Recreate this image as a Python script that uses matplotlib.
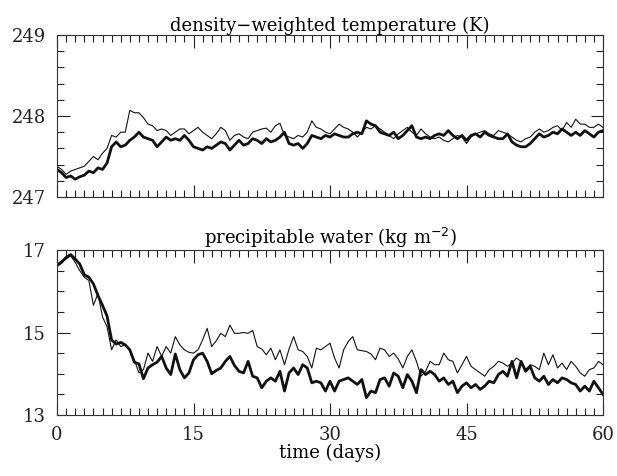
import numpy as np
import matplotlib
matplotlib.use("Agg")
import matplotlib.pyplot as plt
from matplotlib.ticker import MultipleLocator

# half-day samples, days 0..60
temp_thick = [
    247.34, 247.30, 247.24, 247.26, 247.22, 247.25, 247.27, 247.32, 247.30, 247.36,
    247.34, 247.42, 247.62, 247.68, 247.62, 247.64, 247.70, 247.74, 247.80, 247.74,
    247.72, 247.70, 247.62, 247.68, 247.74, 247.70, 247.72, 247.70, 247.76, 247.70,
    247.62, 247.60, 247.58, 247.62, 247.60, 247.64, 247.68, 247.66, 247.58, 247.64,
    247.70, 247.64, 247.66, 247.72, 247.70, 247.66, 247.72, 247.68, 247.70, 247.74,
    247.80, 247.66, 247.64, 247.66, 247.60, 247.66, 247.76, 247.74, 247.72, 247.76,
    247.74, 247.78, 247.76, 247.74, 247.74, 247.78, 247.80, 247.78, 247.94, 247.90,
    247.88, 247.80, 247.78, 247.76, 247.80, 247.72, 247.76, 247.82, 247.88, 247.74,
    247.72, 247.74, 247.72, 247.76, 247.78, 247.76, 247.82, 247.76, 247.72, 247.76,
    247.70, 247.76, 247.78, 247.74, 247.80, 247.76, 247.74, 247.72, 247.72, 247.78,
    247.68, 247.64, 247.62, 247.62, 247.66, 247.72, 247.78, 247.74, 247.76, 247.80,
    247.78, 247.84, 247.80, 247.76, 247.80, 247.76, 247.82, 247.78, 247.74, 247.80,
    247.82,
]
temp_thin = [
    247.38, 247.34, 247.28, 247.32, 247.34, 247.36, 247.38, 247.44, 247.50, 247.46,
    247.54, 247.60, 247.76, 247.74, 247.80, 247.80, 248.07, 248.04, 248.04, 247.98,
    247.90, 247.88, 247.82, 247.84, 247.82, 247.76, 247.80, 247.84, 247.84, 247.78,
    247.82, 247.86, 247.80, 247.76, 247.72, 247.78, 247.86, 247.82, 247.70, 247.76,
    247.78, 247.74, 247.72, 247.80, 247.82, 247.84, 247.85, 247.80, 247.88, 247.91,
    247.76, 247.74, 247.72, 247.76, 247.74, 247.80, 247.94, 247.86, 247.84, 247.80,
    247.78, 247.84, 247.90, 247.86, 247.84, 247.80, 247.74, 247.80, 247.86, 247.84,
    247.88, 247.84, 247.80, 247.76, 247.72, 247.78, 247.82, 247.86, 247.80, 247.76,
    247.84, 247.78, 247.74, 247.72, 247.74, 247.70, 247.68, 247.72, 247.76, 247.74,
    247.66, 247.74, 247.78, 247.80, 247.82, 247.78, 247.76, 247.82, 247.80, 247.78,
    247.74, 247.70, 247.68, 247.72, 247.74, 247.80, 247.84, 247.80, 247.82, 247.86,
    247.88, 247.82, 247.92, 247.86, 247.96, 247.90, 247.90, 247.86, 247.86, 247.90,
    247.86,
]
pw_thick = [
    16.62, 16.70, 16.82, 16.89, 16.78, 16.66, 16.40, 16.34, 16.18, 15.90,
    15.66, 15.40, 14.82, 14.72, 14.76, 14.70, 14.58, 14.28, 14.24, 13.88,
    14.14, 14.22, 14.28, 14.42, 14.14, 13.98, 14.48, 14.10, 13.90, 14.02,
    14.34, 14.46, 14.50, 14.30, 14.00, 14.08, 14.14, 14.30, 14.42, 14.20,
    14.06, 14.02, 14.30, 13.94, 13.90, 13.66, 13.82, 13.90, 13.82, 14.06,
    13.58, 14.02, 14.14, 13.98, 14.22, 14.14, 13.78, 13.82, 13.78, 13.58,
    13.82, 13.58, 13.82, 13.86, 13.90, 13.82, 13.74, 13.86, 13.42, 13.58,
    13.54, 13.86, 13.90, 13.70, 14.02, 13.94, 13.66, 13.98, 13.82, 13.54,
    14.10, 13.98, 14.06, 13.98, 13.82, 13.90, 13.74, 13.82, 13.54, 13.70,
    13.78, 13.66, 13.74, 13.62, 13.70, 13.82, 13.78, 13.98, 14.06, 13.94,
    14.30, 13.90, 14.30, 14.06, 14.18, 13.90, 13.82, 13.94, 13.74, 13.86,
    13.78, 13.90, 13.86, 13.78, 13.74, 13.58, 13.70, 13.58, 13.82, 13.66,
    13.50,
]
pw_thin = [
    16.66, 16.74, 16.78, 16.86, 16.70, 16.50, 16.34, 16.26, 15.66, 15.94,
    15.38, 15.14, 14.58, 14.82, 14.66, 14.70, 14.58, 14.34, 14.02, 14.10,
    14.50, 14.30, 14.66, 14.42, 14.66, 14.50, 14.90, 14.70, 14.58, 14.52,
    14.50, 14.58, 14.82, 15.10, 14.66, 14.80, 14.98, 14.90, 15.18, 14.98,
    14.98, 15.00, 14.98, 15.05, 14.66, 14.60, 14.46, 14.62, 14.34, 14.58,
    14.22, 14.60, 14.90, 14.58, 14.54, 14.42, 14.14, 14.62, 14.58, 14.66,
    14.74, 14.38, 14.14, 14.58, 14.78, 14.90, 14.58, 14.56, 14.54, 14.48,
    14.34, 14.62, 14.58, 14.42, 14.50, 14.36, 14.14, 14.42, 14.58, 14.30,
    13.94, 14.06, 14.30, 14.22, 14.22, 14.50, 14.34, 14.30, 14.02, 14.22,
    14.42, 14.18, 14.10, 14.02, 13.94, 14.10, 14.18, 14.30, 14.26, 14.18,
    14.26, 14.38, 14.30, 14.10, 14.22, 14.18, 14.10, 14.50, 14.22, 14.46,
    14.14, 14.26, 14.10, 14.30, 14.18, 14.02, 13.94, 14.10, 14.14, 14.30,
    14.22,
]

x_ticks = [0, 15, 30, 45, 60]
temp_ticks = [247, 248, 249]
pw_ticks = [13, 15, 17]

days = np.arange(len(temp_thick)) * 0.5

plt.rcParams['font.family'] = ['DejaVu Serif']
FS = 13

fig = plt.figure(figsize=(6.17, 4.76), dpi=100)
ax1 = fig.add_axes([57/617, 1-197/476, 546/617, 162/476])
ax2 = fig.add_axes([57/617, 1-415/476, 546/617, 165/476])

def style(ax, ylim, yticks, yminor):
    ax.set_xlim(0, 60)
    ax.set_ylim(*ylim)
    ax.set_xticks(x_ticks)
    ax.set_yticks(yticks)
    ax.xaxis.set_minor_locator(MultipleLocator(1))
    ax.yaxis.set_minor_locator(MultipleLocator(yminor))
    ax.tick_params(which='both', direction='in', top=True, right=True,
                   labelsize=FS, width=0.8, colors='#222222')
    ax.tick_params(which='major', length=9, pad=8)
    ax.tick_params(which='minor', length=5)
    for s in ax.spines.values():
        s.set_linewidth(0.8)
        s.set_color('#333333')

ax1.plot(days, temp_thin, color='#111111', lw=0.8)
ax1.plot(days, temp_thick, color='#111111', lw=2.0)
style(ax1, (247, 249), temp_ticks, 0.2)
ax1.tick_params(labelbottom=False)
ax1.set_title('density\u2212weighted temperature (K)', fontsize=FS, pad=3)

ax2.plot(days, pw_thin, color='#111111', lw=0.8)
ax2.plot(days, pw_thick, color='#111111', lw=2.0)
style(ax2, (13, 17), pw_ticks, 0.5)
ax2.set_title('precipitable water (kg m$^{-2}$)', fontsize=FS, pad=3)
ax2.set_xlabel('time (days)', fontsize=FS, labelpad=0)

fig.savefig('out.png', dpi=100)
